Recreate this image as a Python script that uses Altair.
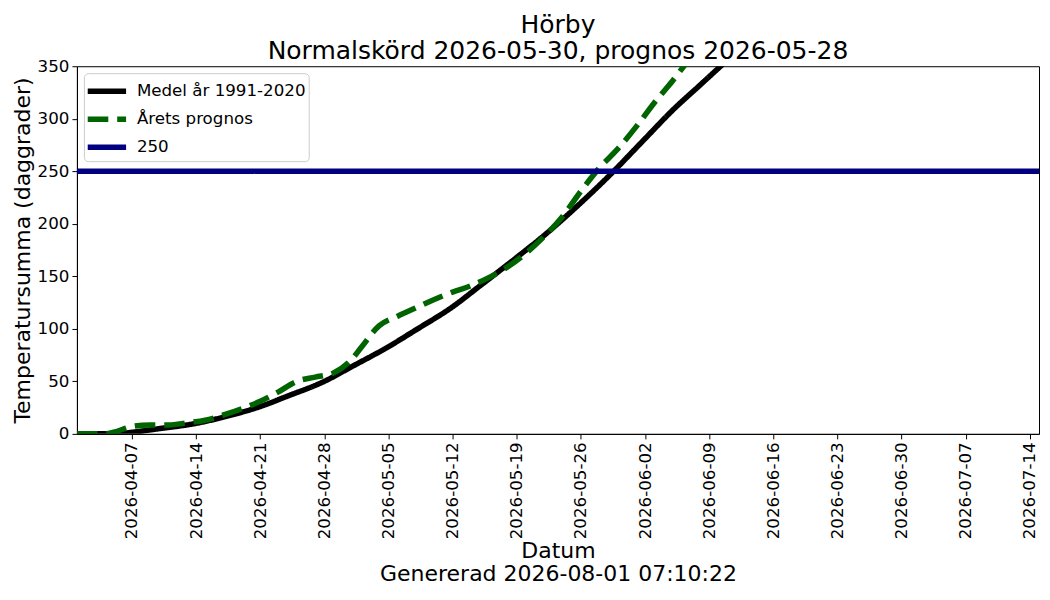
import altair as alt
import pandas as pd

# ---- data ----
series_names = ["Medel år 1991-2020", "Årets prognos", "250"]
series_colors = ["#000000", "#006400", "#000080"]

medel_dates = ["2026-04-01", "2026-04-04", "2026-04-06", "2026-04-07", "2026-04-10",
               "2026-04-14", "2026-04-17", "2026-04-21", "2026-04-24", "2026-04-28",
               "2026-05-01", "2026-05-05", "2026-05-08", "2026-05-12", "2026-05-15",
               "2026-05-19", "2026-05-22", "2026-05-26", "2026-05-29", "2026-06-02",
               "2026-06-05", "2026-06-08", "2026-06-11"]
medel_values = [0, 0, 0.5, 1.5, 5, 10, 16, 26, 36, 50, 64, 83, 99, 121, 141,
                168, 189, 220, 245, 281, 308, 332, 356]

prognos_dates = ["2026-04-01", "2026-04-04", "2026-04-05", "2026-04-07", "2026-04-09",
                 "2026-04-11", "2026-04-13", "2026-04-15", "2026-04-17", "2026-04-19",
                 "2026-04-21", "2026-04-23", "2026-04-25", "2026-04-27", "2026-04-29",
                 "2026-05-01", "2026-05-02", "2026-05-04", "2026-05-06", "2026-05-08",
                 "2026-05-10", "2026-05-12", "2026-05-14", "2026-05-16", "2026-05-18",
                 "2026-05-20", "2026-05-22", "2026-05-24", "2026-05-26", "2026-05-28",
                 "2026-05-30", "2026-06-01", "2026-06-03", "2026-06-05", "2026-06-07",
                 "2026-06-08"]
prognos_values = [0, 0, 1.5, 7, 8.5, 8.5, 10.5, 13, 18, 24, 31, 40, 50, 54, 58,
                  71, 82, 103, 112, 120, 128, 135, 141, 149, 159, 172, 188, 207,
                  231, 253, 271, 292, 315, 336, 358, 367]

threshold = [250]

x_start = (2026, 4, 1)
x_end = (2026, 7, 15)
x_ticks = [(2026, 4, 7), (2026, 4, 14), (2026, 4, 21), (2026, 4, 28), (2026, 5, 5),
           (2026, 5, 12), (2026, 5, 19), (2026, 5, 26), (2026, 6, 2), (2026, 6, 9),
           (2026, 6, 16), (2026, 6, 23), (2026, 6, 30), (2026, 7, 7), (2026, 7, 14)]
y_ticks = [0, 50, 100, 150, 200, 250, 300, 350]

title_lines = ["Hörby", "Normalskörd 2026-05-30, prognos 2026-05-28"]
x_title = ["Datum", "Genererad 2026-08-01 07:10:22"]
y_title = "Temperatursumma (daggrader)"

# ---- build tables ----
df_lines = pd.concat([
    pd.DataFrame({"date": medel_dates, "value": medel_values, "series": series_names[0]}),
    pd.DataFrame({"date": prognos_dates, "value": prognos_values, "series": series_names[1]}),
], ignore_index=True)
df_rule = pd.DataFrame({"value": threshold, "series": [series_names[2]]})


def dt(t):
    return alt.DateTime(year=t[0], month=t[1], date=t[2], utc=True)


color_scale = alt.Scale(domain=series_names, range=series_colors)
dash_scale = alt.Scale(domain=series_names, range=[[1, 0], [20.6, 8.9], [1, 0]])
font = "DejaVu Sans"

x_enc = alt.X(
    "date:T",
    scale=alt.Scale(type="utc", domain=[dt(x_start), dt(x_end)]),
    axis=alt.Axis(values=[dt(t) for t in x_ticks], format="%Y-%m-%d", labelAngle=270,
                  labelFontSize=16.7, titleFontSize=22, tickSize=5, labelPadding=3,
                  titlePadding=2, titleLineHeight=23, titleFontWeight="normal",
                  labelFlush=False, labelOverlap=False),
    title=x_title,
)
y_enc = alt.Y(
    "value:Q",
    scale=alt.Scale(domain=[0, 350], nice=False),
    axis=alt.Axis(values=y_ticks, labelFontSize=16.7, titleFontSize=22, tickSize=5,
                  labelPadding=3, titlePadding=3, titleFontWeight="normal",
                  labelFlush=False),
    title=y_title,
)

lines = alt.Chart(df_lines).mark_line(clip=True, strokeWidth=5.5, interpolate="monotone").encode(
    x=x_enc,
    y=y_enc,
    color=alt.Color("series:N", scale=color_scale, title=None),
    strokeDash=alt.StrokeDash("series:N", scale=dash_scale, title=None),
)

rule = alt.Chart(df_rule).mark_rule(strokeWidth=5.5).encode(
    y=alt.Y("value:Q"),
    color=alt.Color("series:N", scale=color_scale, title=None),
    strokeDash=alt.StrokeDash("series:N", scale=dash_scale, title=None),
)

chart = (
    alt.layer(lines, rule)
    .properties(
        width=963,
        height=368,
        title=alt.TitleParams(text=title_lines, fontSize=25, fontWeight="normal",
                              font=font, anchor="middle", lineHeight=26.5, offset=-6,
                              color="black"),
        padding={"left": 3, "top": 4, "right": 0, "bottom": 0},
    )
    .configure(font=font)
    .configure_view(stroke="black", strokeWidth=1)
    .configure_axis(domainColor="black", tickColor="black", labelColor="black",
                    titleColor="black", grid=False, labelFont=font, titleFont=font)
    .configure_legend(orient="top-left", offset=7, fillColor="white",
                      strokeColor="#cccccc", cornerRadius=4, padding=3,
                      labelFontSize=16.7, labelFont=font, labelColor="black",
                      labelLimit=400, symbolType="M-1.6,0L1.6,0",
                      symbolStrokeWidth=5.5, symbolSize=576, symbolOffset=5,
                      labelOffset=15, rowPadding=2)
)

chart.save("out.html", embed_options={"renderer": "svg", "actions": False})
